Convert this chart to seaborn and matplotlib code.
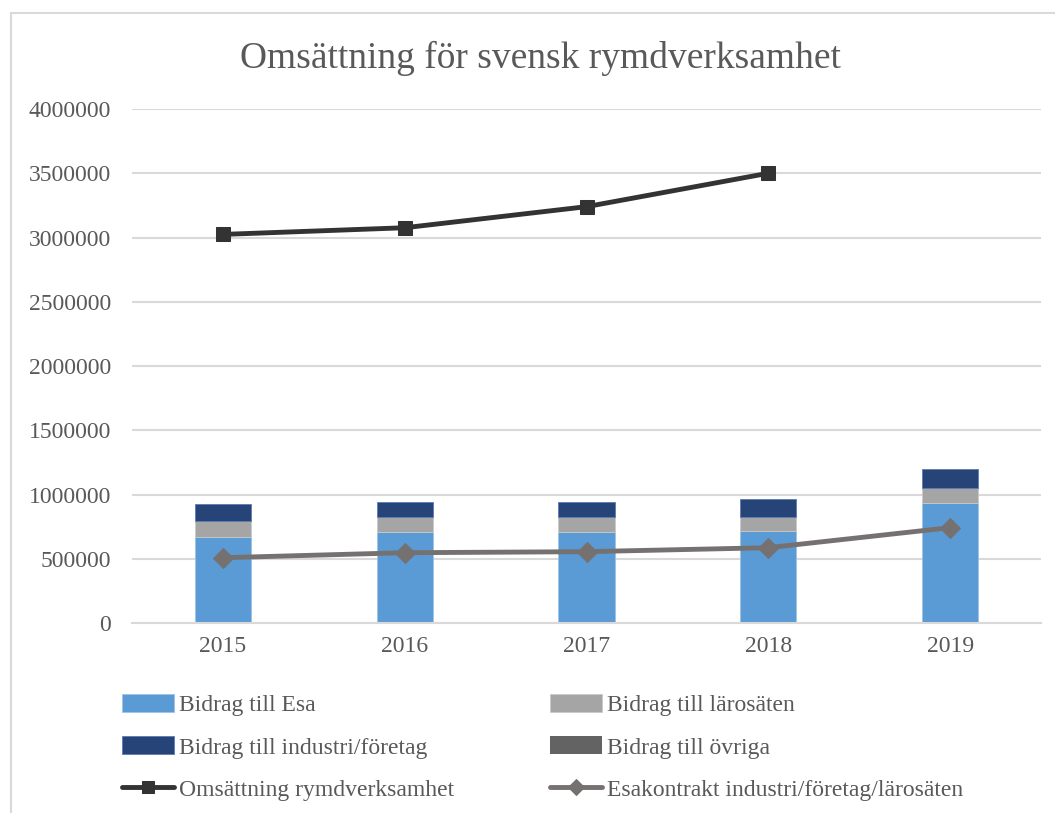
import numpy as np
import pandas as pd
import matplotlib
matplotlib.use("Agg")
import matplotlib.pyplot as plt
import seaborn as sns
from matplotlib.patches import Rectangle

years = ["2015", "2016", "2017", "2018", "2019"]
bidrag_esa = [669000, 710000, 710000, 714000, 936000]
bidrag_larosaten = [125000, 115000, 112000, 109000, 112000]
bidrag_industri = [132000, 114000, 122000, 140000, 150000]
bidrag_ovriga = [0, 0, 0, 0, 0]
omsattning = [3024000, 3076000, 3240000, 3500000, np.nan]
esakontrakt = [508000, 547000, 555000, 586000, 742000]
yticks = [0, 500000, 1000000, 1500000, 2000000, 2500000, 3000000, 3500000, 4000000]

title = "Omsättning för svensk rymdverksamhet"
labels = ["Bidrag till Esa", "Bidrag till lärosäten", "Bidrag till industri/företag",
          "Bidrag till övriga", "Omsättning rymdverksamhet",
          "Esakontrakt industri/företag/lärosäten"]

c_esa = "#5B9BD5"
c_lar = "#A5A5A5"
c_ind = "#264478"
c_ovr = "#636363"
c_oms = "#333333"
c_esk = "#767171"
txt = "#595959"
grid = "#D9D9D9"

sns.set_theme(style="white")
plt.rcParams["font.family"] = ["Liberation Serif", "DejaVu Serif"]

W, H = 1055, 813
fig = plt.figure(figsize=(W / 100, H / 100), dpi=100)
ax = fig.add_axes([132 / W, 1 - 623 / H, (1041 - 132) / W, (623 - 109) / H])

df = pd.DataFrame({"year": years, "esa": bidrag_esa, "lar": bidrag_larosaten,
                   "ind": bidrag_industri, "ovr": bidrag_ovriga})
b1 = np.array(bidrag_esa, dtype=float)
b2 = b1 + np.array(bidrag_larosaten)
b3 = b2 + np.array(bidrag_industri)

bw = 0.31
sns.barplot(data=df, x="year", y="esa", color=c_esa, width=bw, ax=ax,
            saturation=1, label=labels[0], edgecolor="#9DC3E6", linewidth=0.6)
sns.barplot(data=df, x="year", y="lar", bottom=b1, color=c_lar, width=bw, ax=ax,
            saturation=1, label=labels[1], edgecolor="#C9C9C9", linewidth=0.6)
sns.barplot(data=df, x="year", y="ind", bottom=b2, color=c_ind, width=bw, ax=ax,
            saturation=1, label=labels[2], edgecolor="#5A7BB5", linewidth=0.6)
sns.barplot(data=df, x="year", y="ovr", bottom=b3, color=c_ovr, width=bw, ax=ax,
            saturation=1, label=labels[3], linewidth=0)

pos = np.arange(len(years))
sns.lineplot(x=pos, y=omsattning, color=c_oms, lw=3.5, marker="s", markersize=10,
             markeredgecolor=c_oms, ax=ax, label=labels[4], sort=False)
sns.lineplot(x=pos, y=esakontrakt, color=c_esk, lw=3.5, marker="D", markersize=10,
             markeredgecolor=c_esk, ax=ax, label=labels[5], sort=False)

ax.set_xlim(-0.5, len(years) - 0.5)
ax.set_ylim(0, 4000000)
ax.set_yticks(yticks)
ax.set_yticklabels([str(v) for v in yticks])
ax.yaxis.grid(True, color=grid, lw=1.5)
ax.set_axisbelow(True)
for s in ["top", "right", "left"]:
    ax.spines[s].set_visible(False)
ax.spines["bottom"].set_color(grid)
ax.spines["bottom"].set_linewidth(1.5)
ax.tick_params(axis="y", length=0, pad=15, labelsize=17, labelcolor=txt)
ax.tick_params(axis="x", length=0, pad=9, labelsize=17, labelcolor=txt)
ax.set_xlabel("")
ax.set_ylabel("")

h, l = ax.get_legend_handles_labels()
if ax.get_legend():
    ax.get_legend().remove()
hmap = dict(zip(l, h))
order = [labels[0], labels[2], labels[4], labels[1], labels[3], labels[5]]
fig.legend([hmap[k] for k in order], order, loc="upper left",
           bbox_to_anchor=(122 / W, 1 - 694 / H), ncol=2, frameon=False,
           fontsize=17, labelcolor=txt, handlelength=2.2, handletextpad=0.2,
           columnspacing=4.07, labelspacing=0.85, borderpad=0, borderaxespad=0,
           handleheight=0.8, markerscale=0.85)

fig.text(540 / W, 1 - 58 / H, title, ha="center", va="center", fontsize=27, color=txt)

fig.patches.append(Rectangle((10.5 / W, -0.1), 1.2, 1 - 13.5 / H + 0.1,
                             transform=fig.transFigure, fill=False,
                             edgecolor="#D9D9D9", lw=1.5, zorder=0))

fig.savefig("out.png", dpi=100)
